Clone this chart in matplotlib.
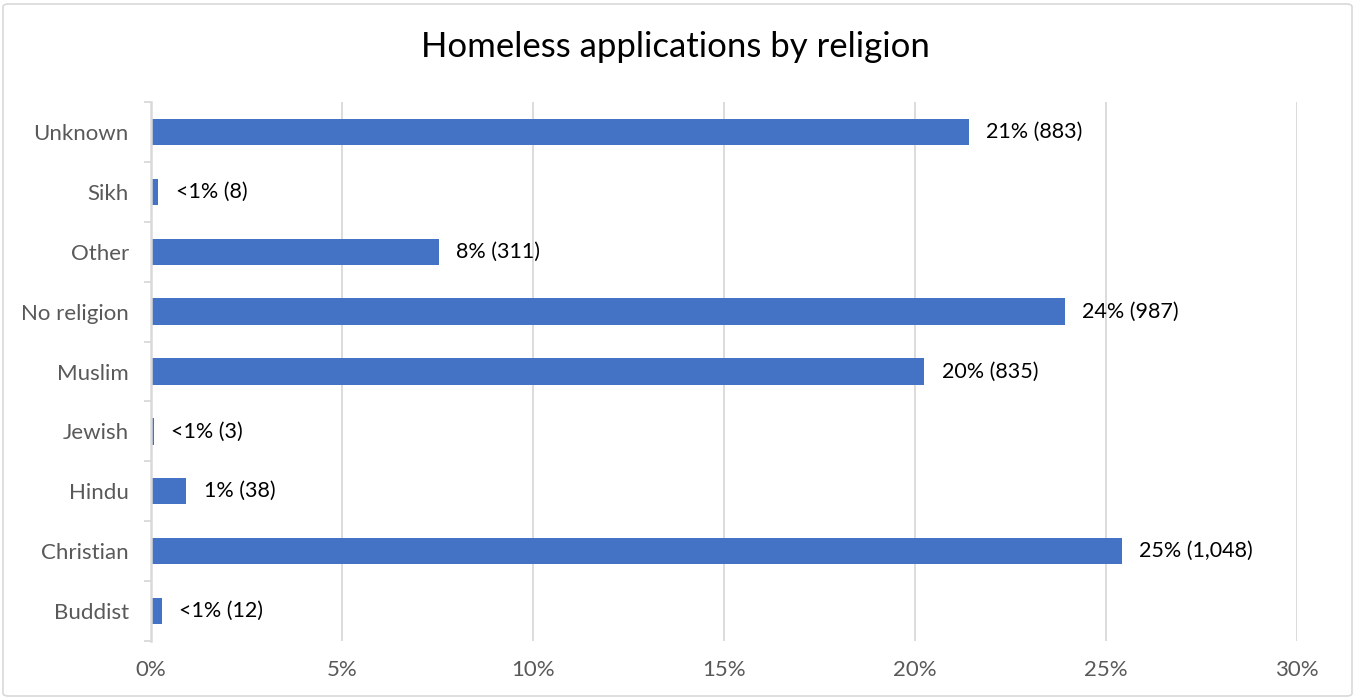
import matplotlib
matplotlib.use("Agg")
import matplotlib.pyplot as plt
from matplotlib.patches import FancyBboxPatch
from matplotlib.ticker import FuncFormatter, MultipleLocator, FixedLocator

plt.rcParams['font.family'] = ['Lato', 'DejaVu Sans']

religions = ["Buddist", "Christian", "Hindu", "Jewish", "Muslim",
             "No religion", "Other", "Sikh", "Unknown"]
counts = [12, 1048, 38, 3, 835, 987, 311, 8, 883]
title = "Homeless applications by religion"

total = sum(counts)
shares = [100.0 * c / total for c in counts]

fig = plt.figure(figsize=(13.56, 6.99), dpi=100)
ax = fig.add_axes([151 / 1356, 1 - 641 / 699, (1297 - 151) / 1356, (641 - 102) / 699])

# light chart-area frame
frame = FancyBboxPatch((3 / 1356, 3 / 699), 1349 / 1356, 692 / 699,
                       boxstyle="round,pad=0,rounding_size=0.004",
                       transform=fig.transFigure, facecolor="none",
                       edgecolor="#d9d9d9", linewidth=1.2)
fig.patches.append(frame)

y = list(range(len(religions)))
ax.barh(y, shares, height=0.44, color="#4472C4", zorder=3)

def label_for(share, count):
    pct = "<1%" if round(share) < 1 else f"{round(share):.0f}%"
    return f"{pct} ({count:,})"

for yi, s, c in zip(y, shares, counts):
    ax.annotate(label_for(s, c), xy=(s, yi), xytext=(12.5, 0),
                textcoords="offset points", va="center", ha="left",
                fontsize=15.5, color="#000000")

ax.set_xlim(0, 30)
ax.set_ylim(-0.5, len(religions) - 0.5)
ax.xaxis.set_major_locator(MultipleLocator(5))
ax.xaxis.set_major_formatter(FuncFormatter(lambda v, p: f"{v:.0f}%"))
ax.grid(axis="x", color="#d9d9d9", linewidth=1.3, zorder=0)

ax.set_yticks(y)
ax.set_yticklabels(religions)
ax.yaxis.set_minor_locator(FixedLocator([i - 0.5 for i in range(len(religions) + 1)]))
ax.tick_params(axis="y", which="major", length=0, pad=16, labelsize=16, labelcolor="#595959")
ax.tick_params(axis="y", which="minor", length=5, color="#d9d9d9", width=1.3)
ax.tick_params(axis="x", length=0, pad=14, labelsize=16, labelcolor="#595959")

for side in ("top", "right", "bottom"):
    ax.spines[side].set_visible(False)
ax.spines["left"].set_color("#d9d9d9")
ax.spines["left"].set_linewidth(1.8)
ax.spines["left"].set_zorder(4)

fig.text(675 / 1356, 1 - 47 / 699, title, ha="center", va="center",
         fontsize=25, color="#000000")

fig.savefig("out.png", dpi=100)
